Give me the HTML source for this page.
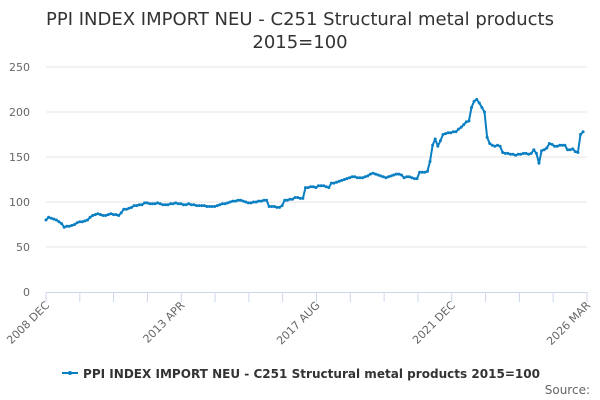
<!DOCTYPE html>
<html><head><meta charset="utf-8"><style>
body{margin:0;background:#fff;}
svg{display:block;font-family:"DejaVu Sans","Liberation Sans",sans-serif;}
</style></head><body>
<svg id="chart" width="600" height="400">
<rect width="600" height="400" fill="#fff"/>
<text x="300" y="25" text-anchor="middle" font-size="18" fill="#333">PPI INDEX IMPORT NEU - C251 Structural metal products</text>
<text x="300" y="48" text-anchor="middle" font-size="18" fill="#333">2015=100</text>
<g id="grid"></g><g id="xaxis"></g><g id="series"></g>
<g>
<line x1="62" y1="373" x2="78" y2="373" stroke="#0a7fc2" stroke-width="2"/>
<circle cx="70" cy="373" r="2" fill="#0a7fc2"/>
<text x="83" y="378" font-size="12.5" font-weight="bold" fill="#333" textLength="457" lengthAdjust="spacingAndGlyphs">PPI INDEX IMPORT NEU - C251 Structural metal products 2015=100</text>
</g>
<text x="590" y="394" text-anchor="end" font-size="12" fill="#666">Source:</text>
</svg>
<script>
const yTicks=[0,50,100,150,200,250];
const xLabels=["2008 DEC","2013 APR","2017 AUG","2021 DEC","2026 MAR"];
const xLabelIdx=[0,52,104,156,208];
const values=[
80,83,82,81,80,78,76,72,73,73,74,75,
77,78,78,79,80,83,85,86,87,86,85,85,
86,87,86,86,85,88,92,92,93,94,96,96,
97,97,99,99,98,98,98,99,98,97,97,97,
98,98,99,98,98,97,97,98,97,97,96,96,
96,96,95,95,95,95,96,97,98,98,99,100,
101,101,102,102,101,100,99,99,100,100,101,101,
102,102,95,95,95,94,94,96,102,102,103,103,
105,105,104,104,116,116,117,117,116,118,118,118,
117,116,121,121,122,123,124,125,126,127,128,128,
127,127,127,128,129,131,132,131,130,129,128,127,
128,129,130,131,131,130,127,128,128,127,126,126,
133,133,133,134,145,163,170,162,168,175,176,177,
177,178,178,181,183,186,189,190,205,212,214,210,
205,200,172,165,163,162,163,162,155,154,154,153,
153,152,153,153,154,154,153,154,158,154,143,157,
158,160,165,164,162,162,163,163,163,158,158,159,
156,155,175,178];
const NS="http://www.w3.org/2000/svg";
const x0=46,x1=587,y0=292,yTop=67;
const xs=i=>x0+i*(x1-x0)/208.5;
const ys=v=>y0-(v/250)*(y0-yTop);
function mk(t,a,p){const e=document.createElementNS(NS,t);for(const k in a)e.setAttribute(k,a[k]);p.appendChild(e);return e;}
const grid=document.getElementById('grid');
yTicks.forEach(v=>{
 if(v>0){const l=mk('line',{x1:x0,x2:x1,y1:ys(v),y2:ys(v),stroke:'#e6e6e6','stroke-width':1},grid);
 
 }
 const t=mk('text',{x:30,y:ys(v)+4,'text-anchor':'end','font-size':11,fill:'#666'},grid);
 t.textContent=v;
 
 
});
const xa=document.getElementById('xaxis');
const ax=mk('line',{x1:x0,x2:x1,y1:y0+0.5,y2:y0+0.5,stroke:'#ccd6eb'},xa);


for(let i=0;i<=208;i+=13){
 const tk=mk('line',{x1:x0+i*(x1-x0)/208,x2:x0+i*(x1-x0)/208,y1:y0,y2:y0+10,stroke:'#ccd6eb'},xa);
 
 
}
xLabels.forEach((s,k)=>{
 const x=x0+xLabelIdx[k]*(x1-x0)/208;
 const t=mk('text',{x:x+4,y:y0+14,'text-anchor':'end','font-size':11,fill:'#666',transform:`rotate(-45 ${x+4} ${y0+14})`},xa);
 t.textContent=s;
 
 
});
const sg=document.getElementById('series');
const pts=values.map((v,i)=>xs(i).toFixed(1)+','+ys(v).toFixed(1)).join(' ');
const pl=mk('polyline',{points:pts,fill:'none',stroke:'#0a7fc2','stroke-width':2,'stroke-linejoin':'round'},sg);


values.forEach((v,i)=>{
 const c=mk('circle',{cx:xs(i),cy:ys(v),r:1.5,fill:'#0a7fc2'},sg);
 
 
});
</script>
</body></html>
